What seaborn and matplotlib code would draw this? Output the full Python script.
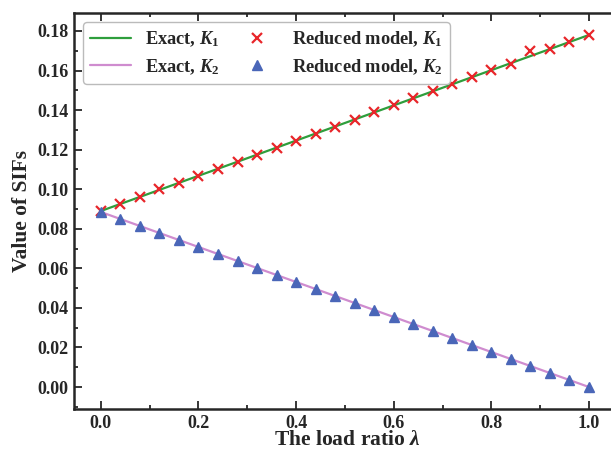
import numpy as np
import pandas as pd
import matplotlib
matplotlib.use("Agg")
import matplotlib.pyplot as plt
from matplotlib.ticker import MultipleLocator, FormatStrFormatter
import seaborn as sns

# ---- data ----
lam_exact = [0.0, 1.0]
k1_exact = [0.089, 0.178]
k2_exact = [0.0885, 0.0]

lam_red = [0.00, 0.04, 0.08, 0.12, 0.16, 0.20, 0.24, 0.28, 0.32, 0.36, 0.40, 0.44, 0.48,
           0.52, 0.56, 0.60, 0.64, 0.68, 0.72, 0.76, 0.80, 0.84, 0.88, 0.92, 0.96, 1.00]
k1_red = [0.0890, 0.0926, 0.0961, 0.1001, 0.1032, 0.1068, 0.1103, 0.1139, 0.1175, 0.1210,
          0.1246, 0.1281, 0.1317, 0.1352, 0.1388, 0.1424, 0.1459, 0.1495, 0.1530, 0.1566,
          0.1602, 0.1632, 0.1700, 0.1708, 0.1743, 0.1779]
k2_red = [0.0885, 0.0850, 0.0814, 0.0779, 0.0744, 0.0708, 0.0673, 0.0637, 0.0602, 0.0566,
          0.0531, 0.0496, 0.0460, 0.0425, 0.0389, 0.0354, 0.0319, 0.0283, 0.0248, 0.0212,
          0.0177, 0.0142, 0.0106, 0.0071, 0.0035, -0.0002]

sns.set_style("ticks")
plt.rcParams['font.family'] = ['Liberation Serif', 'DejaVu Serif']
plt.rcParams['font.weight'] = 'bold'
plt.rcParams['mathtext.fontset'] = 'custom'
plt.rcParams['mathtext.rm'] = 'Liberation Serif:bold'
plt.rcParams['mathtext.it'] = 'Liberation Serif:bold:italic'
plt.rcParams['mathtext.bf'] = 'Liberation Serif:bold'

df_ex = pd.DataFrame({'lam': lam_exact, 'k1': k1_exact, 'k2': k2_exact})
df_red = pd.DataFrame({'lam': lam_red, 'k1': k1_red, 'k2': k2_red})

fig = plt.figure(figsize=(6.11, 4.5), dpi=100)
ax = fig.add_axes([74/611, 1-409/450, 546/611, 396/450])

green = '#2e9e3c'
pink = '#cf8ccf'
red = '#e8262a'
blue = '#4a66b8'

sns.lineplot(data=df_ex, x='lam', y='k1', ax=ax, color=green, lw=1.6, label=r'Exact, $K_1$')
sns.lineplot(data=df_ex, x='lam', y='k2', ax=ax, color=pink, lw=1.6, label=r'Exact, $K_2$')
ax.plot(df_red['lam'], df_red['k1'], ls='none', marker='x', ms=6.5, mew=1.6, color=red,
        label=r'Reduced model, $K_1$')
ax.plot(df_red['lam'], df_red['k2'], ls='none', marker='^', ms=7, color=blue, mec=blue,
        label=r'Reduced model, $K_2$')

ax.set_xlim(-0.055, 1.0635)
ax.set_ylim(-0.0111, 0.1891)
ax.xaxis.set_major_locator(MultipleLocator(0.2))
ax.xaxis.set_minor_locator(MultipleLocator(0.1))
ax.yaxis.set_major_locator(MultipleLocator(0.02))
ax.yaxis.set_minor_locator(MultipleLocator(0.01))
ax.xaxis.set_major_formatter(FormatStrFormatter('%.1f'))
ax.yaxis.set_major_formatter(FormatStrFormatter('%.2f'))
ax.tick_params(which='both', direction='in', top=True, right=True, labelsize=13, width=1.3)
ax.tick_params(which='major', length=5.5, pad=4)
ax.tick_params(which='minor', length=3)
for s in ax.spines.values():
    s.set_linewidth(1.8)

ax.set_xlabel(r'The load ratio $\lambda$', fontsize=15.5, fontweight='bold', labelpad=-1)
ax.set_ylabel('Value of SIFs', fontsize=15.5, fontweight='bold', labelpad=4)

h, l = ax.get_legend_handles_labels()
leg = ax.legend(h, l, ncol=2, loc='upper left',
                bbox_to_anchor=(83/611, 1-22/450), bbox_transform=fig.transFigure,
                borderaxespad=0, prop={'weight': 'bold', 'size': 13.2},
                handlelength=2.2, columnspacing=0.95, handletextpad=0.8,
                labelspacing=0.45, fancybox=True, framealpha=1,
                edgecolor='#bbbbbb')
leg.get_frame().set_linewidth(1.0)

fig.savefig('out.png', dpi=100)
